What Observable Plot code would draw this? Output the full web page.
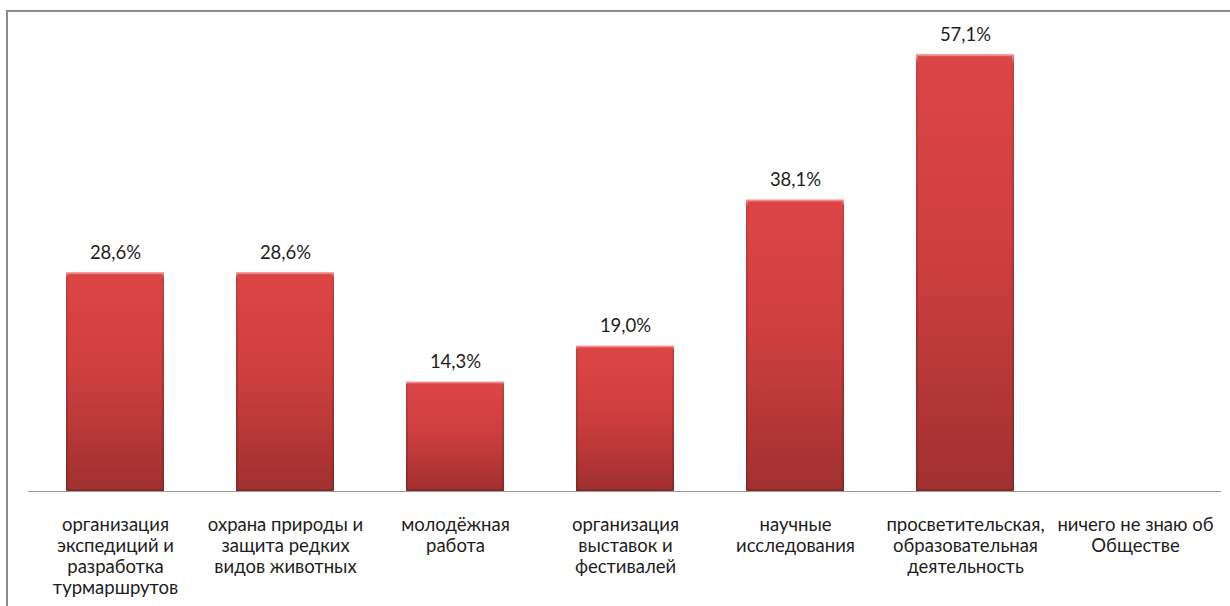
<!DOCTYPE html>
<html>
<head>
<meta charset="utf-8">
<script src="https://cdn.jsdelivr.net/npm/d3@7"></script>
<script src="https://cdn.jsdelivr.net/npm/@observablehq/plot@0.6"></script>
<style>
  html, body { margin: 0; padding: 0; background: #fff; overflow: hidden; }
  #wrap { position: relative; width: 1230px; height: 606px; }
  #border { position: absolute; left: 6px; top: 10px; width: 1400px; height: 800px;
            border-left: 2px solid #8c8c8c; border-top: 2px solid #8c8c8c; box-sizing: border-box; }
  #chart { position: absolute; left: 0; top: 0; }
</style>
</head>
<body>
<div id="wrap"><div id="border"></div><div id="chart"></div></div>
<script>
const categories = [
  "организация\nэкспедиций и\nразработка\nтурмаршрутов",
  "охрана природы и\nзащита редких\nвидов животных",
  "молодёжная\nработа",
  "организация\nвыставок и\nфестивалей",
  "научные\nисследования",
  "просветительская,\nобразовательная\nдеятельность",
  "ничего не знаю об\nОбществе"
];
const values = [28.6, 28.6, 14.3, 19.0, 38.1, 57.1, null];

const data = categories.map((c, i) => ({category: c, value: values[i]}));
const fmt = v => v.toFixed(1).replace(".", ",") + "%";
const shown = data.filter(d => d.value != null);

const chart = Plot.plot({
  width: 1230,
  height: 606,
  marginLeft: 28,
  marginRight: 9,
  marginTop: 32,
  marginBottom: 115,
  style: {fontFamily: "Lato, sans-serif", background: "transparent", color: "#222"},
  x: {domain: categories, paddingInner: 0.425, paddingOuter: 0.2125, label: null},
  y: {domain: [0, 60], axis: null},
  marks: [
    Plot.barY(shown, {
      x: "category", y: "value", fill: "url(#barGrad)",
      stroke: "url(#edgeGrad)", strokeWidth: 2, inset: 1
    }),
    Plot.text(shown, {
      x: "category", y: "value", text: d => fmt(d.value), dy: -20,
      fontSize: 18.5, fill: "#1e1e1e"
    }),
    Plot.ruleY([0], {stroke: "#9a9a9a", strokeWidth: 1}),
    Plot.axisX({tickSize: 0, tickPadding: 25, fontSize: 18.5, lineHeight: 1.135, fill: "#1e1e1e", label: null})
  ]
});

const svg = d3.select(chart);
const defs = svg.insert("defs", ":first-child");
const g = defs.append("linearGradient").attr("id", "barGrad")
  .attr("x1", 0).attr("y1", 0).attr("x2", 0).attr("y2", 1);
g.append("stop").attr("offset", "0%").attr("stop-color", "#dc4545");
g.append("stop").attr("offset", "45%").attr("stop-color", "#cf3f3f");
g.append("stop").attr("offset", "100%").attr("stop-color", "#a13030");
const e = defs.append("linearGradient").attr("id", "edgeGrad")
  .attr("x1", 0).attr("y1", 0).attr("x2", 0).attr("y2", 1);
e.append("stop").attr("offset", "0%").attr("stop-color", "#f08a8a");
e.append("stop").attr("offset", "2%").attr("stop-color", "#c84040");
e.append("stop").attr("offset", "100%").attr("stop-color", "#8a2828");
document.getElementById("chart").appendChild(chart);
</script>
</body>
</html>
